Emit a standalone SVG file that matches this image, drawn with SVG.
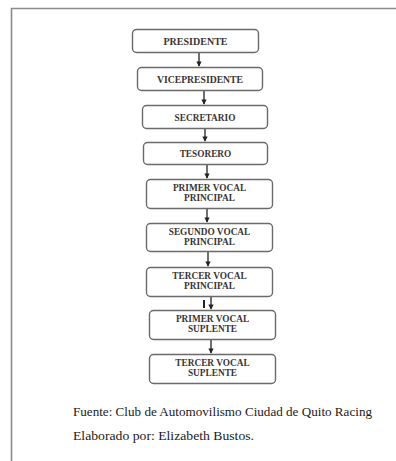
<svg xmlns="http://www.w3.org/2000/svg" width="396" height="461" viewBox="0 0 396 461">
<style>
.box{fill:#fff;stroke:#6a6a6a;stroke-width:1.4}
.lbl{font-family:'Liberation Serif','DejaVu Serif',serif;font-weight:bold;font-size:9.3px;fill:#3a3535;text-anchor:middle}
.cap{font-family:'Liberation Serif','DejaVu Serif',serif;font-size:12.5px;fill:#1a1a1a}
.con{stroke:#222;stroke-width:1.3;fill:none}
.frame{stroke:#8a8a8a;stroke-width:1.6;fill:none}
</style>
<defs>
<marker id="ah" viewBox="0 0 8 8" refX="7" refY="4" markerWidth="4" markerHeight="4" orient="auto" markerUnits="strokeWidth">
<path d="M0,0 L8,4 L0,8 z" fill="#222"/>
</marker>
</defs>
<rect width="396" height="461" fill="#fff"/>
<path class="frame" d="M11.5,461 V8.5 H396"/>
<g id="connectors">
<line class="con" x1="199" y1="52" x2="199" y2="66" marker-end="url(#ah)"/>
<line class="con" x1="204" y1="90" x2="204" y2="104" marker-end="url(#ah)"/>
<line class="con" x1="205" y1="128" x2="205" y2="141" marker-end="url(#ah)"/>
<line class="con" x1="207" y1="164" x2="207" y2="178" marker-end="url(#ah)"/>
<line class="con" x1="207" y1="208" x2="207" y2="222" marker-end="url(#ah)"/>
<line class="con" x1="208" y1="251" x2="208" y2="266" marker-end="url(#ah)"/>
<line class="con" x1="211" y1="296" x2="211" y2="309" marker-end="url(#ah)"/>
<line x1="204" y1="300" x2="204" y2="308" stroke="#222" stroke-width="2"/>
<line class="con" x1="211" y1="339" x2="211" y2="353" marker-end="url(#ah)"/>
</g>
<g id="n1"><rect class="box" x="132.5" y="29.5" width="126" height="23" rx="4"/><text class="lbl" x="195.5" y="44.5" textLength="64" lengthAdjust="spacingAndGlyphs">PRESIDENTE</text></g>
<g id="n2"><rect class="box" x="137.5" y="67.5" width="125" height="23" rx="4"/><text class="lbl" x="200" y="82.5" textLength="86" lengthAdjust="spacingAndGlyphs">VICEPRESIDENTE</text></g>
<g id="n3"><rect class="box" x="142.5" y="105.5" width="125" height="23" rx="4"/><text class="lbl" x="205" y="120.5">SECRETARIO</text></g>
<g id="n4"><rect class="box" x="143.5" y="142.5" width="124" height="22" rx="4"/><text class="lbl" x="205.5" y="157">TESORERO</text></g>
<g id="n5"><rect class="box" x="146.5" y="179.5" width="126" height="29" rx="4"/><text class="lbl" x="209.5" y="191">PRIMER VOCAL</text><text class="lbl" x="209.5" y="200.5">PRINCIPAL</text></g>
<g id="n6"><rect class="box" x="146.5" y="223.5" width="126" height="28" rx="4"/><text class="lbl" x="209.5" y="235">SEGUNDO VOCAL</text><text class="lbl" x="209.5" y="244.5">PRINCIPAL</text></g>
<g id="n7"><rect class="box" x="146.5" y="267.5" width="126" height="29" rx="4"/><text class="lbl" x="209.5" y="279">TERCER VOCAL</text><text class="lbl" x="209.5" y="288.5">PRINCIPAL</text></g>
<g id="n8"><rect class="box" x="149.5" y="310.5" width="126" height="29" rx="4"/><text class="lbl" x="212.5" y="322">PRIMER VOCAL</text><text class="lbl" x="212.5" y="331.5">SUPLENTE</text></g>
<g id="n9"><rect class="box" x="149.5" y="354.5" width="126" height="29" rx="4"/><text class="lbl" x="212.5" y="366">TERCER VOCAL</text><text class="lbl" x="212.5" y="375.5">SUPLENTE</text></g>
<text class="cap" x="73" y="416" textLength="299" lengthAdjust="spacingAndGlyphs">Fuente: Club de Automovilismo Ciudad de Quito Racing</text>
<text class="cap" x="73" y="440" textLength="181" lengthAdjust="spacingAndGlyphs">Elaborado por: Elizabeth Bustos.</text>
</svg>
